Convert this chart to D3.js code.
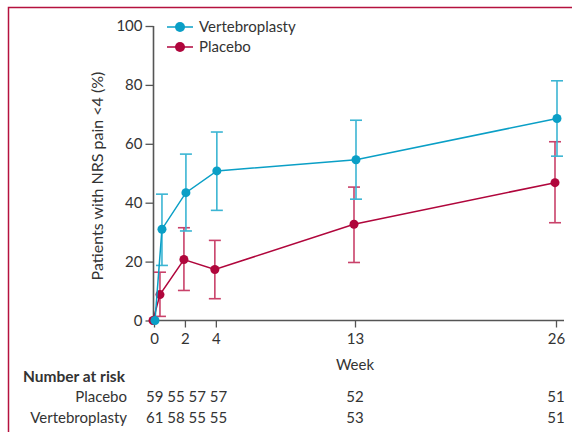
<!DOCTYPE html>
<html>
<head>
<meta charset="utf-8">
<script src="https://cdn.jsdelivr.net/npm/d3@7"></script>
<style>
  body { margin: 0; background: #fff; }
  svg text { font-family: Lato, "Noto Sans", sans-serif; fill: #333; }
</style>
</head>
<body>
<svg id="chart" width="572" height="432"></svg>
<script>
// Data
const weeks = [0, 0.45, 2, 4, 13, 26];
const vertValues = [0, 31, 43.4, 50.8, 54.6, 68.6];
const vertLow = [0, 18.7, 30.4, 37.4, 41.2, 55.8];
const vertHigh = [0, 42.9, 56.5, 64, 68, 81.4];
const placeboValues = [0, 8.8, 20.7, 17.3, 32.7, 46.8];
const placeboLow = [0, 1.4, 10.2, 7.4, 19.7, 33.2];
const placeboHigh = [0, 16.4, 31.5, 27.2, 45.3, 60.7];
const xTicks = [0, 2, 4, 13, 26];
const yTicks = [0, 20, 40, 60, 80, 100];
const riskPlacebo = ['59 55 57 57', '52', '51'];
const riskVert = ['61 58 55 55', '53', '51'];

const svg = d3.select('#chart');

// Frame (top and left only)
svg.append('path')
    .attr('d', 'M572,7.5 H8.5 V432')
    .attr('fill', 'none')
    .attr('stroke', '#b5123f')
    .attr('stroke-width', 1.5);

const x = d3.scaleLinear().domain([0, 26]).range([154, 556]);
const y = d3.scaleLinear().domain([0, 100]).range([320.5, 26]);

const axisColor = '#555';

// Y axis
const yAxis = svg.append('g')
    .attr('transform', 'translate(153.5,0)')
    .call(d3.axisLeft(y).tickValues(yTicks).tickSize(8).tickPadding(3));
yAxis.select('.domain').attr('stroke', axisColor).attr('stroke-width', 1.6).attr('d', `M0,${y(100)}V${y(0) + 0.5}`);
yAxis.selectAll('.tick line').attr('stroke', axisColor).attr('stroke-width', 1.3);
yAxis.selectAll('.tick text').style('font-size', '15px').attr('fill', '#333');

// X axis
const xAxis = svg.append('g')
    .attr('transform', 'translate(0,320.5)')
    .call(d3.axisBottom(x).tickValues(xTicks).tickSize(7).tickPadding(6));
xAxis.select('.domain').attr('stroke', axisColor).attr('stroke-width', 1.3).attr('d', 'M153,0H564');
xAxis.selectAll('.tick line').attr('stroke', axisColor).attr('stroke-width', 1.3);
xAxis.selectAll('.tick text').style('font-size', '15px').attr('fill', '#333');

svg.append('text')
    .attr('x', x(13))
    .attr('y', 370)
    .attr('text-anchor', 'middle')
    .style('font-size', '15px')
    .text('Week');

svg.append('text')
    .attr('transform', 'translate(103,176) rotate(-90)')
    .attr('text-anchor', 'middle')
    .style('font-size', '16px')
    .text('Patients with NRS pain <4 (%)');

// Series
const series = [
    {name: 'Placebo', values: placeboValues, low: placeboLow, high: placeboHigh,
     color: '#b0063c', barColor: '#c9426a', dx: -1},
    {name: 'Vertebroplasty', values: vertValues, low: vertLow, high: vertHigh,
     color: '#0a9fc6', barColor: '#3bb5d3', dx: 1}
];

series.forEach(s => {
    const pts = weeks.map((w, i) => ({w, v: s.values[i], lo: s.low[i], hi: s.high[i]}));
    const g = svg.append('g');

    // error bars
    const eb = g.selectAll('.eb').data(pts.filter(d => d.hi > d.lo)).enter().append('g');
    eb.append('line')
        .attr('x1', d => x(d.w) + s.dx).attr('x2', d => x(d.w) + s.dx)
        .attr('y1', d => y(d.lo)).attr('y2', d => y(d.hi))
        .attr('stroke', s.barColor).attr('stroke-width', 1.6);
    ['lo', 'hi'].forEach(k => {
        eb.append('line')
            .attr('x1', d => x(d.w) + s.dx - 6).attr('x2', d => x(d.w) + s.dx + 6)
            .attr('y1', d => y(d[k])).attr('y2', d => y(d[k]))
            .attr('stroke', s.barColor).attr('stroke-width', 1.6);
    });

    g.append('path')
        .datum(pts)
        .attr('fill', 'none')
        .attr('stroke', s.color)
        .attr('stroke-width', 1.5)
        .attr('d', d3.line().x(d => x(d.w) + s.dx).y(d => y(d.v)));

    g.selectAll('circle').data(pts).enter().append('circle')
        .attr('cx', d => x(d.w) + s.dx)
        .attr('cy', d => y(d.v))
        .attr('r', 4.5)
        .attr('fill', s.color);
});

// Legend
const legendItems = [
    {label: 'Vertebroplasty', color: '#0a9fc6'},
    {label: 'Placebo', color: '#b0063c'}
];
const legend = svg.append('g').attr('transform', 'translate(167,27)');
const li = legend.selectAll('.legend-item').data(legendItems).enter().append('g')
    .attr('transform', (d, i) => `translate(0,${i * 20})`);
li.append('line').attr('x1', 0).attr('x2', 26).attr('stroke', d => d.color).attr('stroke-width', 1.5);
li.append('circle').attr('cx', 13).attr('r', 5).attr('fill', d => d.color);
li.append('text').attr('x', 32).attr('dy', '0.35em').style('font-size', '15px').text(d => d.label);

// Number at risk
svg.append('text')
    .attr('x', 23).attr('y', 382)
    .style('font-size', '15.5px').style('font-weight', 'bold')
    .text('Number at risk');

const riskX = [146, x(13), x(26)];
[['Placebo', riskPlacebo, 402], ['Vertebroplasty', riskVert, 423]].forEach(([name, vals, yy]) => {
    svg.append('text').attr('x', 127).attr('y', yy).attr('text-anchor', 'end')
        .style('font-size', '15px').text(name);
    vals.forEach((v, i) => {
        svg.append('text').attr('x', riskX[i]).attr('y', yy)
            .attr('text-anchor', i === 0 ? 'start' : 'middle')
            .style('font-size', '15px').text(v);
    });
});
</script>
</body>
</html>
